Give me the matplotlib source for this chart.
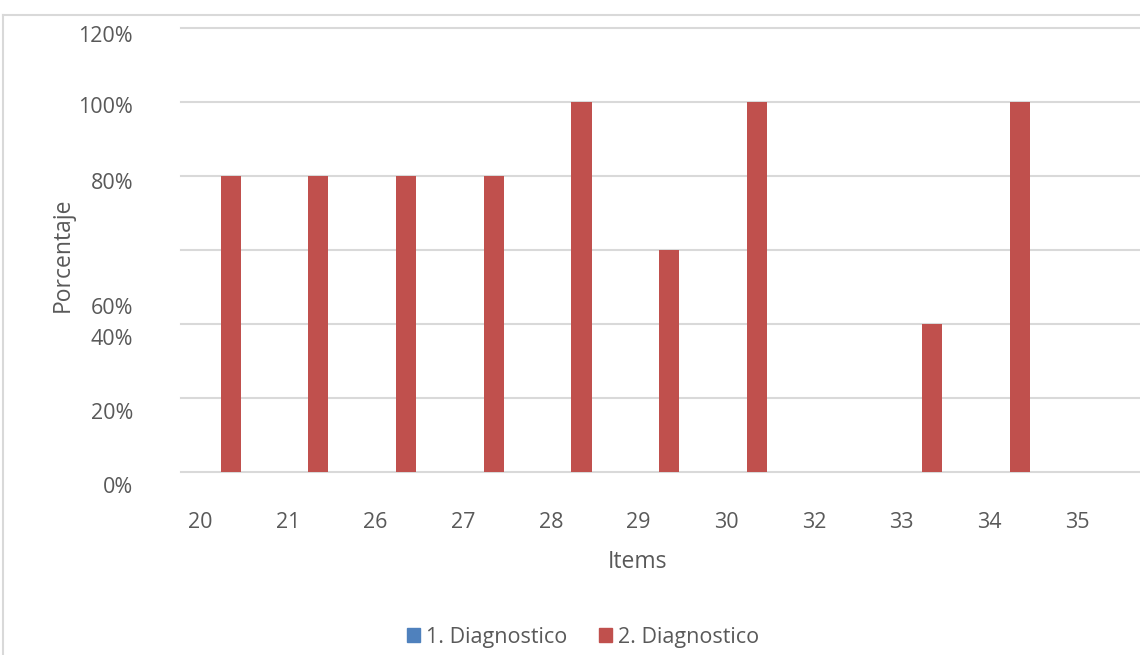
import matplotlib
matplotlib.use("Agg")
import matplotlib.pyplot as plt
import matplotlib.transforms as mtransforms
from matplotlib.patches import Patch
import numpy as np

plt.rcParams['font.family'] = ['Open Sans', 'DejaVu Sans']

items = ['20', '21', '26', '27', '28', '29', '30', '32', '33', '34', '35']
diag1 = [0, 0, 0, 0, 0, 0, 0, 0, 0, 0, 0]
diag2 = [80, 80, 80, 80, 100, 60, 100, 0, 40, 100, 0]
series_names = ['1. Diagnostico', '2. Diagnostico']

# y tick labels as they sit in the original (shifted against the grid)
ytick_text = ['120%', '100%', '80%', '60%', '40%', '20%', '0%']
ytick_at = [117.8, 98.4, 78.1, 44.3, 35.9, 15.7, -4.3]

blue = '#4F81BD'
red = '#C0504D'
grid_c = '#D9D9D9'
txt_c = '#595959'

W, H = 1140, 655
fig = plt.figure(figsize=(W / 100, H / 100), dpi=100)

# axes: left 181px, right edge of figure, y=0 at 472px, 3.7 px per %
left, right = 181, 1140
bottom = 472
top = bottom - 3.7 * 120
ax = fig.add_axes([left / W, 1 - bottom / H, (right - left) / W, (bottom - top) / H])

x = np.arange(len(items))
off = 0.35
bw = 0.23
ax.bar(x - off, diag1, width=bw, color=blue, zorder=3)
ax.bar(x + off, diag2, width=bw, color=red, zorder=3)

ax.set_xlim((left - 200) / 87.7, (right - 200) / 87.7)
ax.set_ylim(0, 120)

for v in range(0, 121, 20):
    ax.axhline(v, color=grid_c, lw=1.5, zorder=1, clip_on=False)

for s in ax.spines.values():
    s.set_visible(False)

ax.set_yticks([])
ax.set_xticks(x)
ax.set_xticklabels(items, fontsize=15.5, color=txt_c)
ax.tick_params(axis='x', length=0, pad=29)

tr = mtransforms.blended_transform_factory(fig.transFigure, ax.transData)
for t, y in zip(ytick_text, ytick_at):
    ax.text(133 / W, y, t, transform=tr, ha='right', va='center',
            fontsize=15.5, color=txt_c, clip_on=False)

fig.text(63 / W, 1 - 255 / H, 'Porcentaje', rotation=90, ha='center', va='center',
         fontsize=16.5, color=txt_c)
fig.text(638 / W, 1 - 562 / H, 'Items', ha='center', va='center',
         fontsize=16.5, color=txt_c)

handles = [Patch(color=blue), Patch(color=red)]
fig.legend(handles, series_names, loc='center', bbox_to_anchor=(583 / W, 1 - 637 / H),
           ncol=2, frameon=False, fontsize=15.5, labelcolor=txt_c,
           handlelength=0.6, handleheight=0.6, handletextpad=0.25, columnspacing=1.5)

# outer chart border (cut off at right and bottom)
fig.add_artist(plt.Line2D([3 / W, 3 / W], [0, 1 - 15 / H], color=grid_c, lw=1.5,
                          transform=fig.transFigure))
fig.add_artist(plt.Line2D([3 / W, 1], [1 - 15 / H, 1 - 15 / H], color=grid_c, lw=1.5,
                          transform=fig.transFigure))

fig.savefig('out.png', dpi=100)
